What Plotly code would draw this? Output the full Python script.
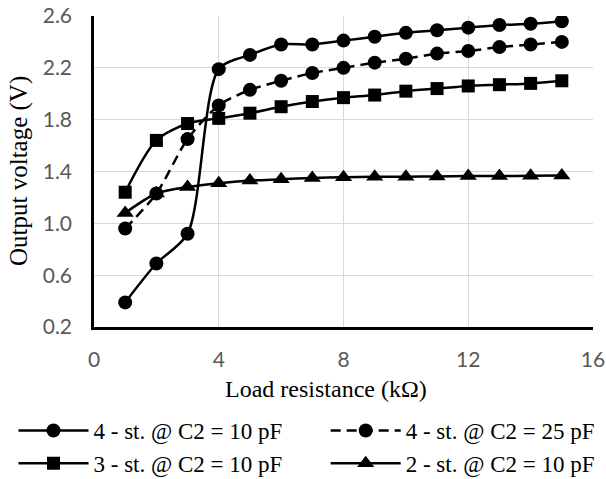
import plotly.graph_objects as go

# Data
load_k = list(range(1, 16))
st4_c10 = [0.39, 0.69, 0.92, 2.19, 2.30, 2.38, 2.38, 2.41, 2.44, 2.47, 2.49, 2.51, 2.53, 2.54, 2.56]
st4_c25 = [0.96, 1.23, 1.65, 1.91, 2.03, 2.10, 2.16, 2.20, 2.24, 2.27, 2.31, 2.33, 2.36, 2.38, 2.40]
st3_c10 = [1.24, 1.64, 1.77, 1.81, 1.85, 1.90, 1.94, 1.97, 1.99, 2.02, 2.04, 2.06, 2.07, 2.08, 2.10]
st2_c10 = [1.08, 1.23, 1.28, 1.31, 1.33, 1.34, 1.35, 1.355, 1.36, 1.36, 1.362, 1.365, 1.365, 1.367, 1.37]

names = ["4 - st. @ C2 = 10 pF", "4 - st. @ C2 = 25 pF", "3 - st. @ C2 = 10 pF", "2 - st. @ C2 = 10 pF"]
series = [st4_c10, st4_c25, st3_c10, st2_c10]
symbols = ["circle", "circle", "square", "triangle-up"]
dashes = ["solid", "10px,6px", "solid", "solid"]
legends = ["legend", "legend2", "legend", "legend2"]
sizes = [14, 14, 13, 15]

x_title = "Load resistance (kΩ)"
y_title = "Output voltage (V)"

fig = go.Figure()
for name, ys, sym, dash, lg, sz in zip(names, series, symbols, dashes, legends, sizes):
    fig.add_trace(go.Scatter(
        x=load_k, y=ys, name=name, mode="lines+markers",
        line=dict(color="black", width=2.5, dash=dash, shape="spline", smoothing=0.8),
        marker=dict(symbol=sym, size=sz, color="black"),
        legend=lg,
    ))

serif = "Liberation Serif, Times New Roman, serif"
tickfont = dict(family="Lato, sans-serif", size=21, color="#595959")
legfont = dict(family=serif, size=23, color="black")

W, H = 606, 479
ml, mr, mt, mb = 94, 13, 16, 152
pw = W - ml - mr
ph = H - mt - mb

fig.update_layout(
    width=W, height=H,
    margin=dict(l=ml, r=mr, t=mt, b=mb, autoexpand=False),
    plot_bgcolor="white", paper_bgcolor="white",
    showlegend=True,
    font=dict(family=serif, size=24, color="black"),
    legend=dict(xref="container", yref="container", x=13.5 / W, y=(H - 409) / H,
                xanchor="left", yanchor="top",
                orientation="v", font=legfont, itemwidth=70, tracegroupgap=0,
                bgcolor="rgba(0,0,0,0)"),
    legend2=dict(xref="container", yref="container", x=325.7 / W, y=(H - 409) / H,
                 xanchor="left", yanchor="top",
                 orientation="v", font=legfont, itemwidth=70, tracegroupgap=0,
                 bgcolor="rgba(0,0,0,0)"),
    xaxis=dict(range=[0, 16], dtick=4, tick0=0, showgrid=True, gridcolor="#d9d9d9", gridwidth=1.3,
               showline=True, linecolor="black", linewidth=2.5, zeroline=False,
               tickfont=tickfont, ticks="", ticklabelstandoff=12),
    yaxis=dict(range=[0.2, 2.6], dtick=0.4, tick0=0.2, tickformat=".1f", showgrid=True,
               gridcolor="#d9d9d9", gridwidth=1.3,
               showline=True, linecolor="black", linewidth=2.5, zeroline=False,
               tickfont=tickfont, ticks="", ticklabelstandoff=15),
    annotations=[
        dict(text=x_title, xref="paper", yref="paper", x=(326 - ml) / pw, y=-(389 - mt - ph) / ph,
             xanchor="center", yanchor="middle", showarrow=False,
             font=dict(family=serif, size=24, color="black")),
        dict(text=y_title, xref="paper", yref="paper", x=(19 - ml) / pw, y=(H - mb - 171) / ph,
             xanchor="center", yanchor="middle", showarrow=False, textangle=-90,
             font=dict(family=serif, size=25, color="black")),
    ],
)

fig.write_html("out.html", config={"displayModeBar": False},
               post_script="document.body.style.margin='0px';")
